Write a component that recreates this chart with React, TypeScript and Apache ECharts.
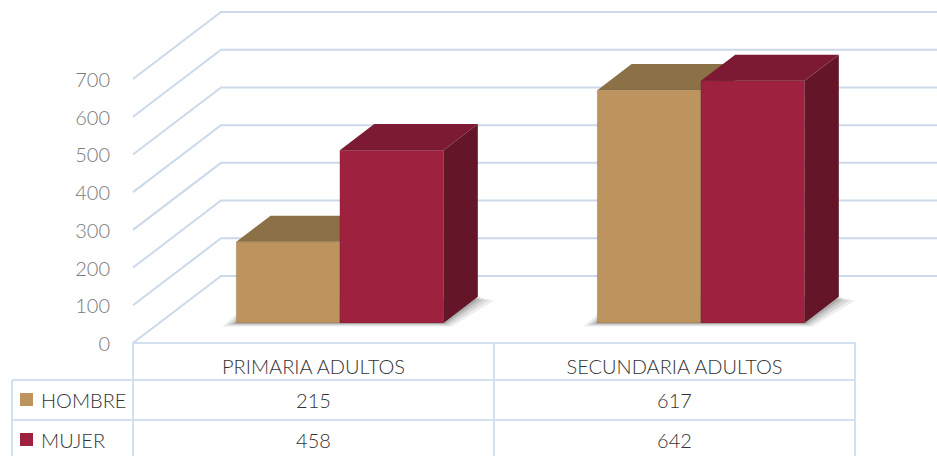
import React, { useEffect, useRef } from "react";
import * as echarts from "echarts";

const categories = ["PRIMARIA ADULTOS", "SECUNDARIA ADULTOS"];
const seriesNames = ["HOMBRE", "MUJER"];
const hombre = [215, 617];
const mujer = [458, 642];
const yTicks = [0, 100, 200, 300, 400, 500, 600, 700];

const FONT = "Lato, 'Open Sans', sans-serif";
const W = 937;
const H = 456;
const G_LEFT = 133;
const G_RIGHT = 82;
const G_TOP = 79;
const G_BOTTOM = 113;
const DEPTH_DX = 88;
const DEPTH_DY = -67;
const GRID_COLOR = "#cbd9ea";
const TABLE_LINE = "#d3e0f0";

const palette = [
  { front: "#bd945d", top: "#8c7146", side: "#7a5f3a" },
  { front: "#9e213f", top: "#7b1a32", side: "#641528" },
];

export default function App() {
  const ref = useRef<HTMLDivElement>(null);
  useEffect(() => {
    if (!ref.current) return;
    const chart = echarts.init(ref.current, undefined, { renderer: "svg" });

    const gridW = W - G_LEFT - G_RIGHT;
    const catW = gridW / categories.length;
    const row1Y = 380;
    const row2Y = 420;

    const barRender = (sIdx: number) => (params: any, api: any) => {
      const cat = api.value(0);
      const val = api.value(1);
      const base = api.coord([cat, 0]);
      const topPt = api.coord([cat, val]);
      const band = api.size([1, 0])[0];
      const bw = band * 0.287;
      const fdx = DEPTH_DX * 0.3;
      const fdy = DEPTH_DY * 0.3;
      const ddx = DEPTH_DX * 0.39;
      const ddy = DEPTH_DY * 0.39;
      const cx = base[0] + fdx;
      const x0 = sIdx === 0 ? cx - bw : cx;
      const x1 = x0 + bw;
      const yb = base[1] + fdy;
      const yt = topPt[1] + fdy;
      const c = palette[sIdx];
      const shadows: any[] = [];
      const layers = [
        { e: 14, a: 0.08 },
        { e: 10, a: 0.1 },
        { e: 6, a: 0.12 },
        { e: 3, a: 0.15 },
      ];
      layers.forEach((l) => {
        const left = sIdx === 0 ? x0 - l.e : x0;
        const right = sIdx === 1 ? x1 + l.e * 0.6 : x1;
        shadows.push({
          type: "polygon",
          shape: {
            points: [
              [left, yb + l.e * 0.25],
              [right, yb + l.e * 0.25],
              [right + ddx + (sIdx === 1 ? l.e * 0.6 : 0), yb + ddy + l.e * 0.25],
              [left + ddx, yb + ddy],
            ],
          },
          style: { fill: `rgba(40,40,40,${l.a})` },
        });
      });
      return {
        type: "group",
        children: [
          ...shadows,
          {
            type: "polygon",
            shape: {
              points: [
                [x1, yb],
                [x1 + ddx, yb + ddy],
                [x1 + ddx, yt + ddy],
                [x1, yt],
              ],
            },
            style: { fill: c.side },
          },
          {
            type: "polygon",
            shape: {
              points: [
                [x0, yt],
                [x1, yt],
                [x1 + ddx, yt + ddy],
                [x0 + ddx, yt + ddy],
              ],
            },
            style: { fill: c.top },
          },
          {
            type: "rect",
            shape: { x: x0, y: yt, width: bw, height: yb - yt },
            style: { fill: c.front, stroke: "rgba(0,0,0,0.12)", lineWidth: 1 },
          },
        ],
      };
    };

    const graphics: any[] = [
      {
        type: "line",
        shape: { x1: 12, y1: row1Y, x2: G_LEFT + gridW, y2: row1Y },
        style: { stroke: TABLE_LINE, lineWidth: 2 },
      },
      {
        type: "line",
        shape: { x1: 12, y1: row2Y, x2: G_LEFT + gridW, y2: row2Y },
        style: { stroke: TABLE_LINE, lineWidth: 2 },
      },
      {
        type: "line",
        shape: { x1: 12, y1: row1Y, x2: 12, y2: H },
        style: { stroke: TABLE_LINE, lineWidth: 2 },
      },
    ];
    const rows = [hombre, mujer];
    rows.forEach((vals, r) => {
      const yc = r === 0 ? (row1Y + row2Y) / 2 : (row2Y + H) / 2 + 2;
      graphics.push({
        type: "rect",
        shape: { x: 20, y: yc - 7, width: 13, height: 13 },
        style: { fill: palette[r].front },
      });
      graphics.push({
        type: "text",
        x: 41,
        y: yc,
        style: {
          text: seriesNames[r],
          fill: "#333333",
          font: `300 20px ${FONT}`,
          textVerticalAlign: "middle",
        },
      });
      vals.forEach((v, i) => {
        graphics.push({
          type: "text",
          x: G_LEFT + catW * (i + 0.5),
          y: yc,
          style: {
            text: String(v),
            fill: "#333333",
            font: `300 20px ${FONT}`,
            textAlign: "center",
            textVerticalAlign: "middle",
          },
        });
      });
    });

    chart.setOption({
      animation: false,
      backgroundColor: "#ffffff",
      grid: { left: G_LEFT, right: G_RIGHT, top: G_TOP, bottom: G_BOTTOM },
      xAxis: {
        type: "category",
        data: categories,
        axisLine: { show: true, lineStyle: { color: TABLE_LINE, width: 2 } },
        axisTick: { show: true, length: G_BOTTOM, lineStyle: { color: TABLE_LINE, width: 2 } },
        axisLabel: {
          color: "#333333",
          fontSize: 20,
          fontWeight: 300,
          fontFamily: FONT,
          margin: 13,
        },
        splitLine: { show: false },
      },
      yAxis: {
        type: "value",
        min: 0,
        max: 700,
        interval: 100,
        axisLine: { show: false },
        axisTick: { show: false },
        splitLine: { show: false },
        axisLabel: {
          color: "#7a7a7a",
          fontSize: 20,
          fontWeight: 300,
          fontFamily: FONT,
          margin: 23,
        },
      },
      series: [
        {
          type: "custom",
          name: "grid",
          z: 1,
          silent: true,
          data: yTicks.map((t) => [0, t]),
          renderItem: (params: any, api: any) => {
            const cs = params.coordSys;
            const y = api.coord([0, api.value(1)])[1];
            return {
              type: "polyline",
              shape: {
                points: [
                  [cs.x, y],
                  [cs.x + DEPTH_DX, y + DEPTH_DY],
                  [cs.x + cs.width + DEPTH_DX, y + DEPTH_DY],
                ],
              },
              style: { stroke: GRID_COLOR, lineWidth: 2, fill: "none" },
            };
          },
        },
        {
          type: "custom",
          name: seriesNames[0],
          z: 2,
          data: hombre.map((v, i) => [i, v]),
          renderItem: barRender(0),
        },
        {
          type: "custom",
          name: seriesNames[1],
          z: 3,
          data: mujer.map((v, i) => [i, v]),
          renderItem: barRender(1),
        },
      ],
      graphic: graphics,
    });
    return () => chart.dispose();
  }, []);
  return <div ref={ref} style={{ width: W, height: H, position: "absolute", left: 0, top: 0 }} />;
}
